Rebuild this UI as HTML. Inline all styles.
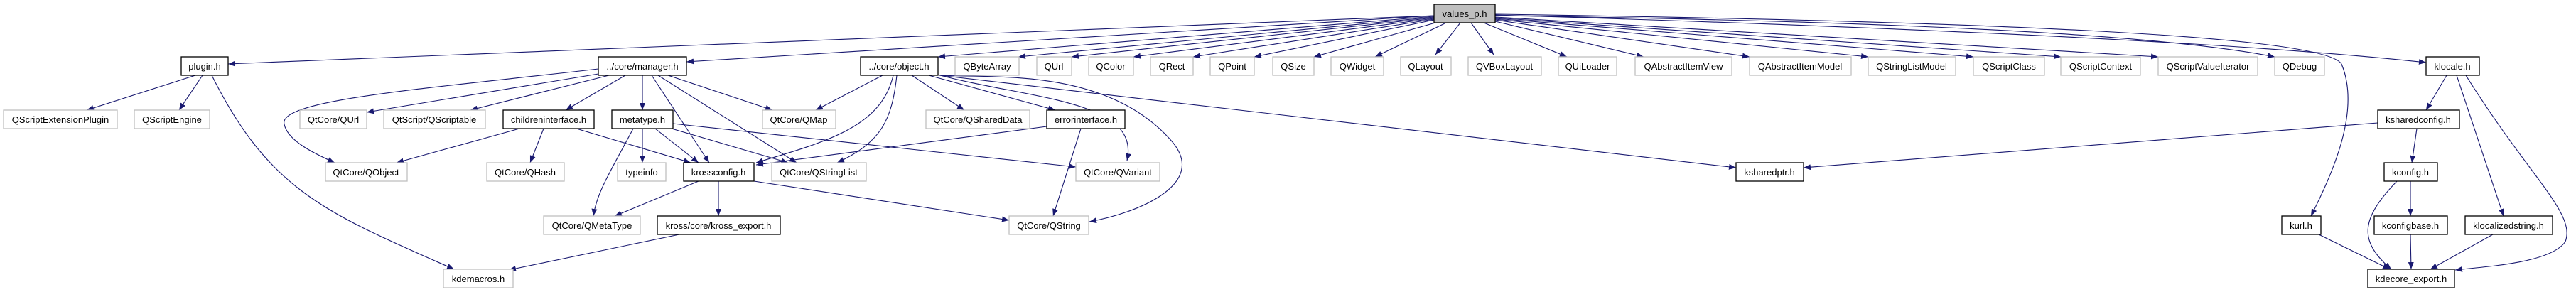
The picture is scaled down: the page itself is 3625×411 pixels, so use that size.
<!DOCTYPE html>
<html><head><meta charset="utf-8"><style>
html,body{margin:0;padding:0;background:#fff;}
svg{display:block;}
text{font-family:"Liberation Sans",Arial,sans-serif;font-size:13px;text-anchor:middle;fill:#000;}
.g{fill:#fff;stroke:#bfbfbf;stroke-width:1.3;}
.b{fill:#fff;stroke:#000;stroke-width:1.3;}
.e{fill:none;stroke:#191970;stroke-width:1.1;marker-end:url(#a);}
</style></head><body>
<svg width="3625" height="411" viewBox="0 0 3625 411" xmlns="http://www.w3.org/2000/svg">
<defs><marker id="a" markerUnits="userSpaceOnUse" markerWidth="11" markerHeight="8" refX="10" refY="4" orient="auto"><path d="M0,0 L10,4 L0,8 z" fill="#191970"/></marker></defs>
<g>
<path class="e" d="M2018,22 L321,90"/>
<path class="e" d="M2018,22 L966,87"/>
<path class="e" d="M2018,23 L1320,80"/>
<path class="e" d="M2018,24 L1433,80"/>
<path class="e" d="M2018,25 L1508,80"/>
<path class="e" d="M2018,26 L1595,80"/>
<path class="e" d="M2018,27 L1679,80"/>
<path class="e" d="M2018,28 L1765,80"/>
<path class="e" d="M2020,32 L1849,80"/>
<path class="e" d="M2035,32 L1935,80"/>
<path class="e" d="M2055,32 L2020,77"/>
<path class="e" d="M2070,32 L2102,77"/>
<path class="e" d="M2088,32 L2205,80"/>
<path class="e" d="M2104,30 L2313,80"/>
<path class="e" d="M2104,28 L2462,80"/>
<path class="e" d="M2104,27 L2629,80"/>
<path class="e" d="M2104,26 L2777,80"/>
<path class="e" d="M2104,25 L2900,80"/>
<path class="e" d="M2104,24 L3037,80"/>
<path class="e" d="M2104,22 C2700,30 3050,50 3201,80"/>
<path class="e" d="M2104,21 C2900,45 3250,70 3414,88"/>
<path class="e" d="M2104,20 C2800,30 3270,50 3295,90 C3320,150 3290,230 3252,304"/>
<path class="e" d="M275,106 L122,155"/>
<path class="e" d="M285,106 L252,155"/>
<path class="e" d="M298,106 C380,270 460,300 639,379"/>
<path class="e" d="M842,97 C600,125 390,140 400,175 C405,198 440,215 471,229"/>
<path class="e" d="M842,104 L516,158"/>
<path class="e" d="M857,106 L662,155"/>
<path class="e" d="M880,106 L796,155"/>
<path class="e" d="M904,106 L904,155"/>
<path class="e" d="M917,106 L998,229"/>
<path class="e" d="M926,106 L1121,229"/>
<path class="e" d="M940,106 L1087,155"/>
<path class="e" d="M731,181 L558,229"/>
<path class="e" d="M765,181 L746,229"/>
<path class="e" d="M811,181 L972,229"/>
<path class="e" d="M891,181 C860,240 840,270 835,304"/>
<path class="e" d="M904,181 L904,229"/>
<path class="e" d="M922,181 L983,229"/>
<path class="e" d="M945,181 L1109,229"/>
<path class="e" d="M947,174 L1514,235"/>
<path class="e" d="M983,255 L865,304"/>
<path class="e" d="M1011,255 L1011,304"/>
<path class="e" d="M1061,255 L1420,310"/>
<path class="e" d="M956,330 L716,380"/>
<path class="e" d="M1242,106 L1148,155"/>
<path class="e" d="M1257,106 C1240,180 1160,200 1064,229"/>
<path class="e" d="M1262,106 C1255,170 1240,200 1178,229"/>
<path class="e" d="M1283,106 L1357,155"/>
<path class="e" d="M1307,106 L1485,155"/>
<path class="e" d="M1319,105 C1450,140 1605,140 1586,226"/>
<path class="e" d="M1322,106 C1400,110 1560,95 1650,200 C1700,260 1600,300 1533,312"/>
<path class="e" d="M1322,106 L2443,236"/>
<path class="e" d="M1473,178 L1064,232"/>
<path class="e" d="M1521,181 L1482,304"/>
<path class="e" d="M3443,106 L3414,155"/>
<path class="e" d="M3457,106 L3523,304"/>
<path class="e" d="M3470,106 C3560,250 3625,300 3610,340 C3590,370 3500,375 3455,380"/>
<path class="e" d="M3346,173 L2538,236"/>
<path class="e" d="M3401,181 L3394,229"/>
<path class="e" d="M3392,255 L3392,304"/>
<path class="e" d="M3373,255 C3320,310 3320,340 3365,379"/>
<path class="e" d="M3392,330 L3393,379"/>
<path class="e" d="M3263,330 L3363,379"/>
<path class="e" d="M3508,330 L3420,379"/>
</g>
<g>
<rect x="2018" y="6" width="86" height="26" fill="#bfbfbf" stroke="#000" stroke-width="1.3"/><text x="2061" y="24">values_p.h</text>
<rect class="b" x="255" y="80" width="66" height="26"/><text x="288" y="98">plugin.h</text>
<rect class="b" x="842" y="80" width="124" height="26"/><text x="904" y="98">../core/manager.h</text>
<rect class="b" x="1211" y="80" width="109" height="26"/><text x="1265" y="98">../core/object.h</text>
<rect class="g" x="1344" y="80" width="90" height="26"/><text x="1389" y="98">QByteArray</text>
<rect class="g" x="1459" y="80" width="49" height="26"/><text x="1483" y="98">QUrl</text>
<rect class="g" x="1532" y="80" width="63" height="26"/><text x="1563" y="98">QColor</text>
<rect class="g" x="1619" y="80" width="60" height="26"/><text x="1649" y="98">QRect</text>
<rect class="g" x="1703" y="80" width="62" height="26"/><text x="1734" y="98">QPoint</text>
<rect class="g" x="1791" y="80" width="58" height="26"/><text x="1820" y="98">QSize</text>
<rect class="g" x="1873" y="80" width="74" height="26"/><text x="1910" y="98">QWidget</text>
<rect class="g" x="1971" y="80" width="71" height="26"/><text x="2006" y="98">QLayout</text>
<rect class="g" x="2066" y="80" width="103" height="26"/><text x="2117" y="98">QVBoxLayout</text>
<rect class="g" x="2193" y="80" width="82" height="26"/><text x="2234" y="98">QUiLoader</text>
<rect class="g" x="2301" y="80" width="136" height="26"/><text x="2369" y="98">QAbstractItemView</text>
<rect class="g" x="2462" y="80" width="143" height="26"/><text x="2533" y="98">QAbstractItemModel</text>
<rect class="g" x="2629" y="80" width="123" height="26"/><text x="2690" y="98">QStringListModel</text>
<rect class="g" x="2777" y="80" width="100" height="26"/><text x="2827" y="98">QScriptClass</text>
<rect class="g" x="2900" y="80" width="112" height="26"/><text x="2956" y="98">QScriptContext</text>
<rect class="g" x="3037" y="80" width="140" height="26"/><text x="3107" y="98">QScriptValueIterator</text>
<rect class="g" x="3201" y="80" width="70" height="26"/><text x="3236" y="98">QDebug</text>
<rect class="b" x="3414" y="80" width="75" height="26"/><text x="3451" y="98">klocale.h</text>
<rect class="g" x="5" y="155" width="160" height="26"/><text x="85" y="173">QScriptExtensionPlugin</text>
<rect class="g" x="189" y="155" width="106" height="26"/><text x="242" y="173">QScriptEngine</text>
<rect class="g" x="422" y="155" width="94" height="26"/><text x="469" y="173">QtCore/QUrl</text>
<rect class="g" x="540" y="155" width="143" height="26"/><text x="611" y="173">QtScript/QScriptable</text>
<rect class="b" x="708" y="155" width="128" height="26"/><text x="772" y="173">childreninterface.h</text>
<rect class="b" x="861" y="155" width="86" height="26"/><text x="904" y="173">metatype.h</text>
<rect class="g" x="1073" y="155" width="103" height="26"/><text x="1124" y="173">QtCore/QMap</text>
<rect class="g" x="1303" y="155" width="146" height="26"/><text x="1376" y="173">QtCore/QSharedData</text>
<rect class="b" x="1473" y="155" width="110" height="26"/><text x="1528" y="173">errorinterface.h</text>
<rect class="b" x="3346" y="155" width="115" height="26"/><text x="3403" y="173">ksharedconfig.h</text>
<rect class="g" x="458" y="229" width="115" height="26"/><text x="515" y="247">QtCore/QObject</text>
<rect class="g" x="685" y="229" width="109" height="26"/><text x="739" y="247">QtCore/QHash</text>
<rect class="g" x="869" y="229" width="68" height="26"/><text x="903" y="247">typeinfo</text>
<rect class="b" x="962" y="229" width="99" height="26"/><text x="1011" y="247">krossconfig.h</text>
<rect class="g" x="1086" y="229" width="133" height="26"/><text x="1152" y="247">QtCore/QStringList</text>
<rect class="g" x="1514" y="229" width="118" height="26"/><text x="1573" y="247">QtCore/QVariant</text>
<rect class="b" x="2443" y="229" width="95" height="26"/><text x="2490" y="247">ksharedptr.h</text>
<rect class="b" x="3355" y="229" width="75" height="26"/><text x="3392" y="247">kconfig.h</text>
<rect class="g" x="765" y="304" width="136" height="26"/><text x="833" y="322">QtCore/QMetaType</text>
<rect class="b" x="925" y="304" width="173" height="26"/><text x="1011" y="322">kross/core/kross_export.h</text>
<rect class="g" x="1420" y="304" width="112" height="26"/><text x="1476" y="322">QtCore/QString</text>
<rect class="b" x="3211" y="304" width="55" height="26"/><text x="3238" y="322">kurl.h</text>
<rect class="b" x="3341" y="304" width="103" height="26"/><text x="3392" y="322">kconfigbase.h</text>
<rect class="b" x="3469" y="304" width="123" height="26"/><text x="3530" y="322">klocalizedstring.h</text>
<rect class="g" x="624" y="379" width="98" height="26"/><text x="673" y="397">kdemacros.h</text>
<rect class="b" x="3332" y="379" width="122" height="26"/><text x="3393" y="397">kdecore_export.h</text>
</g>
</svg>
</body></html>
